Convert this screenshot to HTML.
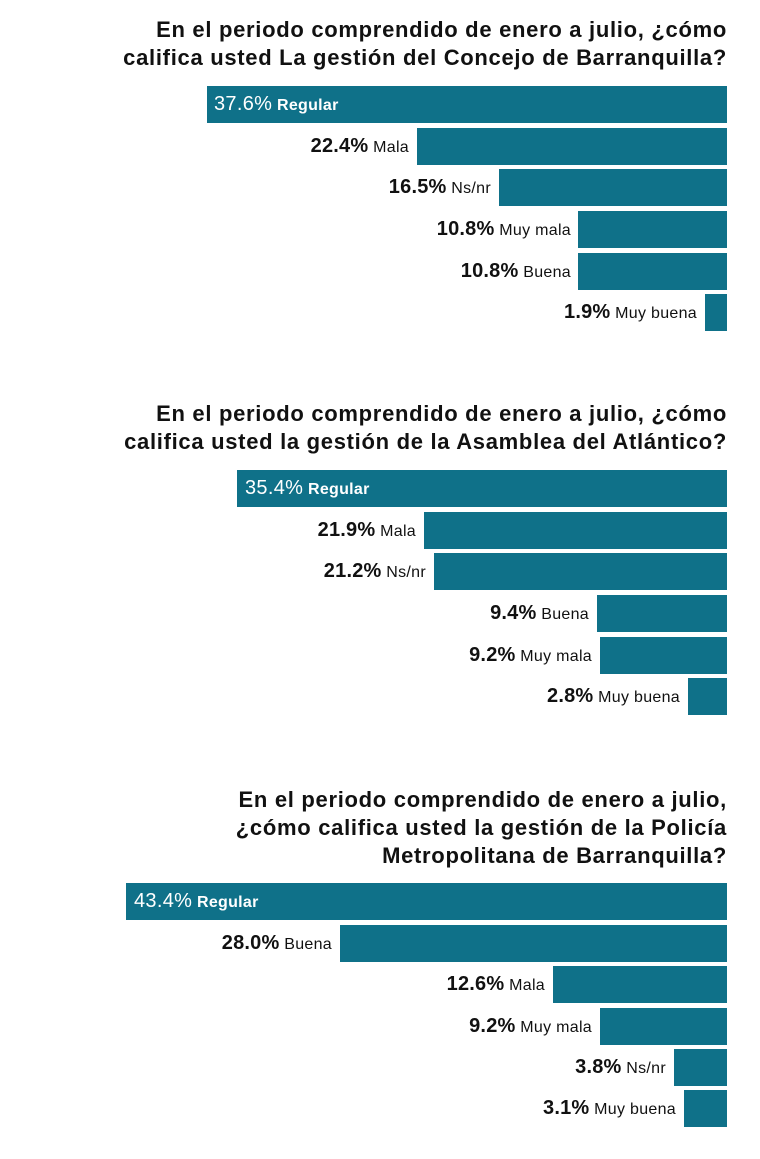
<!DOCTYPE html>
<html><head><meta charset="utf-8"><style>
body{margin:0;width:760px;height:1159px;background:#fff;position:relative;font-family:"Liberation Sans",sans-serif;overflow:hidden}
.t{position:absolute;right:33px;text-align:right;font-weight:bold;font-size:22px;line-height:28px;color:#111;letter-spacing:0.7px;white-space:nowrap}
.b{position:absolute;right:33px;height:37px;background:#0f7189}
.l{position:absolute;height:37px;line-height:37px;text-align:right;white-space:nowrap;color:#111;font-size:16px;letter-spacing:0.3px}
.l b{font-size:20px;letter-spacing:0.2px}
.in{position:absolute;height:37px;line-height:37px;color:#fff;font-size:16px;font-weight:bold;white-space:nowrap;letter-spacing:0.3px}
.in span{font-size:20px;font-weight:normal}
</style></head><body>
<div class="t" style="top:16px">En el periodo comprendido de enero a julio, ¿cómo<br>califica usted La gestión del Concejo de Barranquilla?</div>
<div class="b" style="top:86px;left:207px"></div><div class="in" style="top:86px;left:214px"><span>37.6%</span> Regular</div>
<div class="b" style="top:128px;left:417px"></div><div class="l" style="top:128px;right:351px"><b>22.4%</b> Mala</div>
<div class="b" style="top:169px;left:499px"></div><div class="l" style="top:169px;right:269px"><b>16.5%</b> Ns/nr</div>
<div class="b" style="top:211px;left:578px"></div><div class="l" style="top:211px;right:189px"><b>10.8%</b> Muy mala</div>
<div class="b" style="top:253px;left:578px"></div><div class="l" style="top:253px;right:189px"><b>10.8%</b> Buena</div>
<div class="b" style="top:294px;left:705px"></div><div class="l" style="top:294px;right:63px"><b>1.9%</b> Muy buena</div>

<div class="t" style="top:400px">En el periodo comprendido de enero a julio, ¿cómo<br>califica usted la gestión de la Asamblea del Atlántico?</div>
<div class="b" style="top:470px;left:237px"></div><div class="in" style="top:470px;left:245px"><span>35.4%</span> Regular</div>
<div class="b" style="top:512px;left:424px"></div><div class="l" style="top:512px;right:344px"><b>21.9%</b> Mala</div>
<div class="b" style="top:553px;left:434px"></div><div class="l" style="top:553px;right:334px"><b>21.2%</b> Ns/nr</div>
<div class="b" style="top:595px;left:597px"></div><div class="l" style="top:595px;right:171px"><b>9.4%</b> Buena</div>
<div class="b" style="top:637px;left:600px"></div><div class="l" style="top:637px;right:168px"><b>9.2%</b> Muy mala</div>
<div class="b" style="top:678px;left:688px"></div><div class="l" style="top:678px;right:80px"><b>2.8%</b> Muy buena</div>

<div class="t" style="top:786px">En el periodo comprendido de enero a julio,<br>¿cómo califica usted la gestión de la Policía<br>Metropolitana de Barranquilla?</div>
<div class="b" style="top:883px;left:126px"></div><div class="in" style="top:883px;left:134px"><span>43.4%</span> Regular</div>
<div class="b" style="top:925px;left:340px"></div><div class="l" style="top:925px;right:428px"><b>28.0%</b> Buena</div>
<div class="b" style="top:966px;left:553px"></div><div class="l" style="top:966px;right:215px"><b>12.6%</b> Mala</div>
<div class="b" style="top:1008px;left:600px"></div><div class="l" style="top:1008px;right:168px"><b>9.2%</b> Muy mala</div>
<div class="b" style="top:1049px;left:674px"></div><div class="l" style="top:1049px;right:94px"><b>3.8%</b> Ns/nr</div>
<div class="b" style="top:1090px;left:684px"></div><div class="l" style="top:1090px;right:84px"><b>3.1%</b> Muy buena</div>
</body></html>
